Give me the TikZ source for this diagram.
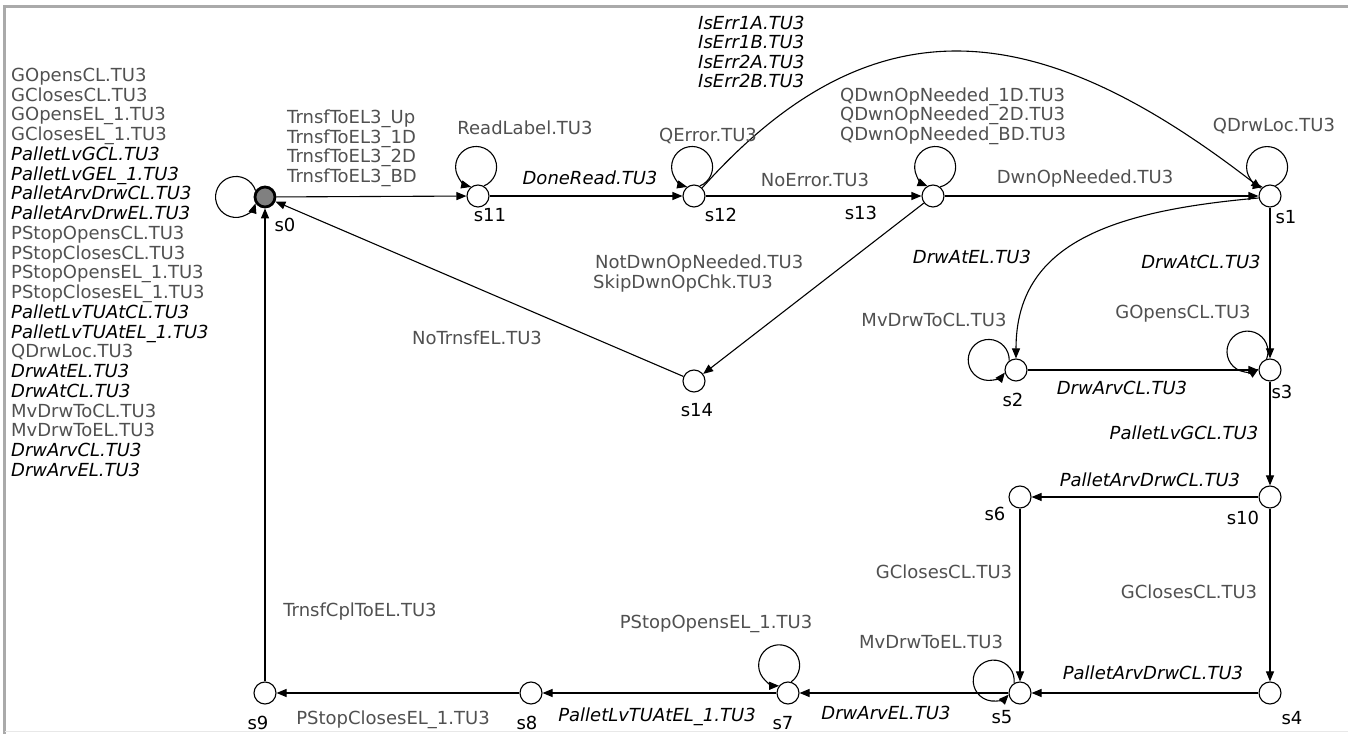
\documentclass[tikz,border=0pt]{standalone}
\usepackage{fontspec}
\setmainfont{DejaVu Sans}
\usetikzlibrary{arrows.meta}
\definecolor{lbl}{RGB}{80,80,80}
\definecolor{framec}{RGB}{170,170,170}
\definecolor{faintc}{RGB}{232,232,232}
\definecolor{initc}{RGB}{128,128,128}
\begin{document}
\begin{tikzpicture}[x=1pt,y=1pt,
  st/.style={circle,draw,line width=1.1pt,fill=white,minimum size=22pt,inner sep=0pt},
  init/.style={circle,draw,line width=2.8pt,fill=initc,minimum size=20pt,inner sep=0pt},
  tr/.style={line width=1.1pt,-{Triangle[length=10pt,width=8pt]}},
  up/.style={font=\fontsize{18pt}{19.75pt}\selectfont,text=lbl,inner sep=0pt,anchor=base},
  it/.style={font=\fontsize{18pt}{19.75pt}\selectfont\itshape,text=black,inner sep=0pt,anchor=base},
  sn/.style={font=\fontsize{18pt}{20pt}\selectfont,text=black,inner sep=0pt,anchor=base},
]
\useasboundingbox (0,0) rectangle (1353,734);
% frame
\draw[framec,line width=3pt] (4.5,0) -- (4.5,727.5) -- (1348,727.5);
\draw[faintc,line width=1pt] (4.5,2) -- (1348,2);

% states
\node[init] (s0) at (265,537) {};
\node[st] (s11) at (478,538) {};
\node[st] (s12) at (694,538) {};
\node[st] (s13) at (933,538) {};
\node[st] (s1) at (1270,538) {};
\node[st] (s2) at (1016,364) {};
\node[st] (s3) at (1270,364) {};
\node[st] (s10) at (1270,237) {};
\node[st] (s6) at (1020,237) {};
\node[st] (s4) at (1270,41) {};
\node[st] (s5) at (1020,41) {};
\node[st] (s7) at (788,41) {};
\node[st] (s8) at (531,41) {};
\node[st] (s9) at (265,41) {};
\node[st] (s14) at (694,353) {};

% state names
\node[sn] (n0) at (285,502.5) {s0};
\node[sn] (n11) at (490,512.5) {s11};
\node[sn] (n12) at (721,512.5) {s12};
\node[sn] (n13) at (861,514.5) {s13};
\node[sn] (n1) at (1286,510.5) {s1};
\node[sn] (n2) at (1013,327.5) {s2};
\node[sn] (n3) at (1282,335.5) {s3};
\node[sn] (n10) at (1243,209.5) {s10};
\node[sn] (n6) at (995,213.5) {s6};
\node[sn] (n4) at (1292,9.5) {s4};
\node[sn] (n5) at (1002,10.5) {s5};
\node[sn] (n7) at (783,4.5) {s7};
\node[sn] (n8) at (527,4.5) {s8};
\node[sn] (n9) at (258,4.5) {s9};
\node[sn] (n14) at (697,317.5) {s14};

% transitions
\draw[tr] (s0) -- (s11);
\draw[tr] (s11) -- (s12);
\draw[tr] (s12) -- (s13);
\draw[tr] (s13) -- (s1);
\draw[tr] (s12.45) .. controls (878,743) and (1046,712) .. (s1.140);
\draw[tr] (s1.190) .. controls (1110,523) and (1016,490) .. (s2.north);
\draw[tr] (s1) -- (s3);
\draw[tr] (s2) -- (s3);
\draw[tr] (s3) -- (s10);
\draw[tr] (s10) -- (s6);
\draw[tr] (s6) -- (s5);
\draw[tr] (s10) -- (s4);
\draw[tr] (s4) -- (s5);
\draw[tr] (s5) -- (s7);
\draw[tr] (s7) -- (s8);
\draw[tr] (s8) -- (s9);
\draw[tr] (s9) -- (s0);
\draw[tr] (s13) -- (s14);
\draw[tr] (s14) -- (s0);
% self loops (circular arcs)
\draw[tr] (s0.146) arc[start angle=18,end angle=342,radius=20.5];
\draw[tr] (s11.60) arc[start angle=-68,end angle=256,radius=20.5];
\draw[tr] (s12.60) arc[start angle=-68,end angle=256,radius=20.5];
\draw[tr] (s13.52) arc[start angle=-76,end angle=248,radius=20.5];
\draw[tr] (s1.62) arc[start angle=-66,end angle=258,radius=20.5];
\draw[tr] (s2.126) arc[start angle=-2,end angle=322,radius=20.5];
\draw[tr] (s3.107) arc[start angle=-21,end angle=303,radius=20.5];
\draw[tr] (s5.121) arc[start angle=-7,end angle=317,radius=20.5];
\draw[tr] (s7.74) arc[start angle=-54,end angle=270,radius=20.5];

% left column
\foreach \t [count=\i from 0] in {
  {\color{lbl}GOpensCL.TU3},{\color{lbl}GClosesCL.TU3},{\color{lbl}GOpensEL\_1.TU3},{\color{lbl}GClosesEL\_1.TU3},
  {\itshape PalletLvGCL.TU3},{\itshape PalletLvGEL\_1.TU3},{\itshape PalletArvDrwCL.TU3},{\itshape PalletArvDrwEL.TU3},
  {\color{lbl}PStopOpensCL.TU3},{\color{lbl}PStopClosesCL.TU3},{\color{lbl}PStopOpensEL\_1.TU3},{\color{lbl}PStopClosesEL\_1.TU3},
  {\itshape PalletLvTUAtCL.TU3},{\itshape PalletLvTUAtEL\_1.TU3},{\color{lbl}QDrwLoc.TU3},{\itshape DrwAtEL.TU3},
  {\itshape DrwAtCL.TU3},{\color{lbl}MvDrwToCL.TU3},{\color{lbl}MvDrwToEL.TU3},{\itshape DrwArvCL.TU3},{\itshape DrwArvEL.TU3}}
  \node[sn,anchor=base west] (L\i) at (11,{652.5-\i*19.75}) {\t};

% edge labels
\foreach \t [count=\i from 0] in {TrnsfToEL3\_Up,TrnsfToEL3\_1D,TrnsfToEL3\_2D,TrnsfToEL3\_BD}
  \node[up,anchor=base west] (T\i) at (287,{610.5-\i*19.75}) {\t};
\foreach \t [count=\i from 0] in {IsErr1A.TU3,IsErr1B.TU3,IsErr2A.TU3,IsErr2B.TU3}
  \node[it,anchor=base west] (E\i) at (698,{704.5-\i*19.5}) {\t};
\foreach \t [count=\i from 0] in {QDwnOpNeeded\_1D.TU3,QDwnOpNeeded\_2D.TU3,QDwnOpNeeded\_BD.TU3}
  \node[up,anchor=base west] (Q\i) at (840,{632.5-\i*19.5}) {\t};
\node[up] (a1) at (525,599.5) {ReadLabel.TU3};
\node[it] (a2) at (590,549.5) {DoneRead.TU3};
\node[up] (a3) at (708,592.5) {QError.TU3};
\node[up] (a4) at (815,547.5) {NoError.TU3};
\node[up] (a5) at (1085,550.5) {DwnOpNeeded.TU3};
\node[up] (a6) at (1274,602.5) {QDrwLoc.TU3};
\node[it] (a7) at (972,470.5) {DrwAtEL.TU3};
\node[it] (a8) at (1201,465.5) {DrwAtCL.TU3};
\node[up,anchor=base west] (a9) at (595,465.5) {NotDwnOpNeeded.TU3};
\node[up,anchor=base west] (a10) at (593,445.5) {SkipDwnOpChk.TU3};
\node[up] (a11) at (477,389.5) {NoTrnsfEL.TU3};
\node[up] (a12) at (934,407.5) {MvDrwToCL.TU3};
\node[up] (a13) at (1183,415.5) {GOpensCL.TU3};
\node[it] (a14) at (1122,339.5) {DrwArvCL.TU3};
\node[it] (a15) at (1184,294.5) {PalletLvGCL.TU3};
\node[it] (a16) at (1150,247.5) {PalletArvDrwCL.TU3};
\node[up] (a17) at (944,155.5) {GClosesCL.TU3};
\node[up] (a18) at (1189,135.5) {GClosesCL.TU3};
\node[up] (a19) at (360,117.5) {TrnsfCplToEL.TU3};
\node[up] (a20) at (716,105.5) {PStopOpensEL\_1.TU3};
\node[up] (a21) at (931,85.5) {MvDrwToEL.TU3};
\node[it] (a22) at (1153,54.5) {PalletArvDrwCL.TU3};
\node[it] (a23) at (886,14.5) {DrwArvEL.TU3};
\node[it] (a24) at (657,12.5) {PalletLvTUAtEL\_1.TU3};
\node[up] (a25) at (393,9.5) {PStopClosesEL\_1.TU3};
\end{tikzpicture}
\end{document}
